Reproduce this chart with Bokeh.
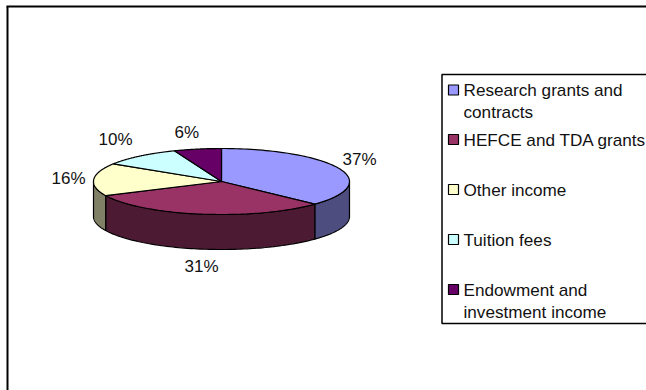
import numpy as np
from bokeh.core.properties import value
from bokeh.embed import file_html
from bokeh.models import Range1d
from bokeh.plotting import figure
from bokeh.resources import INLINE

# Income sources, clockwise from twelve o'clock
categories = ["Research grants and contracts", "HEFCE and TDA grants", "Other income",
              "Tuition fees", "Endowment and investment income"]
shares = [37, 31, 16, 10, 6]
top_colors = ["#9999FF", "#993366", "#FFFFCC", "#CCFFFF", "#660066"]
side_colors = ["#4D4D80", "#4D1A33", "#808066", "#668080", "#330033"]
pct_labels = ["37%", "31%", "16%", "10%", "6%"]
pct_pos = [(342, 159), (184, 266), (51, 178), (98, 139), (174, 132)]
legend_lines = [["Research grants and", "contracts"], ["HEFCE and TDA grants"], ["Other income"],
                ["Tuition fees"], ["Endowment and", "investment income"]]
legend_y = [[89.5, 111], [139], [189], [239], [289, 311]]

CX, CY, RX, RY, DEPTH = 221, 181, 128, 33, 35
FONT = value("Liberation Sans")
LABEL_PX = "17px"
LEGEND_PX = "17.15px"

p = figure(width=646, height=390, output_backend="svg", toolbar_location=None,
           x_range=Range1d(0, 646), y_range=Range1d(390, 0), min_border=0,
           background_fill_color="white", border_fill_color="white", outline_line_color=None)
p.axis.visible = False
p.grid.visible = False

# Chart frame: only the top and left edges fall inside the page
p.line([7, 7], [390, 6], line_color="black", line_width=2)
p.line([6, 646], [6, 6], line_color="black", line_width=2)

fractions = np.cumsum([0] + shares) / sum(shares)


def rim(a0, a1, n=80):
    a = np.linspace(a0, a1, n)
    return CX + RX * np.sin(a), CY - RY * np.cos(a)


# Side walls are only visible on the front half of the ellipse
for i in range(len(shares)):
    a0, a1 = 2 * np.pi * fractions[i], 2 * np.pi * fractions[i + 1]
    lo, hi = max(a0, np.pi / 2), min(a1, 3 * np.pi / 2)
    if lo < hi:
        x, y = rim(lo, hi)
        p.patch(np.r_[x, x[::-1]], np.r_[y, y[::-1] + DEPTH], fill_color=side_colors[i],
                line_color="black", line_width=1.2)

# Top faces
for i in range(len(shares)):
    x, y = rim(2 * np.pi * fractions[i], 2 * np.pi * fractions[i + 1])
    p.patch(np.r_[CX, x], np.r_[CY, y], fill_color=top_colors[i], line_color="black", line_width=1.2)

# Percentage labels
p.text([q[0] for q in pct_pos], [q[1] for q in pct_pos], text=pct_labels, text_font=FONT,
       text_font_size=LABEL_PX, text_color="#111111", text_align="left", text_baseline="middle")

# Legend box, swatches and entries
p.quad(left=[441.5], right=[660], top=[74], bottom=[323], fill_color="white", line_color="black", line_width=1.5)
for i, lines in enumerate(legend_lines):
    y0 = legend_y[i][0]
    p.rect([453], [y0], width=10, height=10, fill_color=top_colors[i], line_color="black", line_width=1.2)
    p.text([463] * len(lines), legend_y[i], text=lines, text_font=FONT, text_font_size=LEGEND_PX,
           text_color="#111111", text_align="left", text_baseline="middle")

open("out.html", "w").write(file_html(p, INLINE))
